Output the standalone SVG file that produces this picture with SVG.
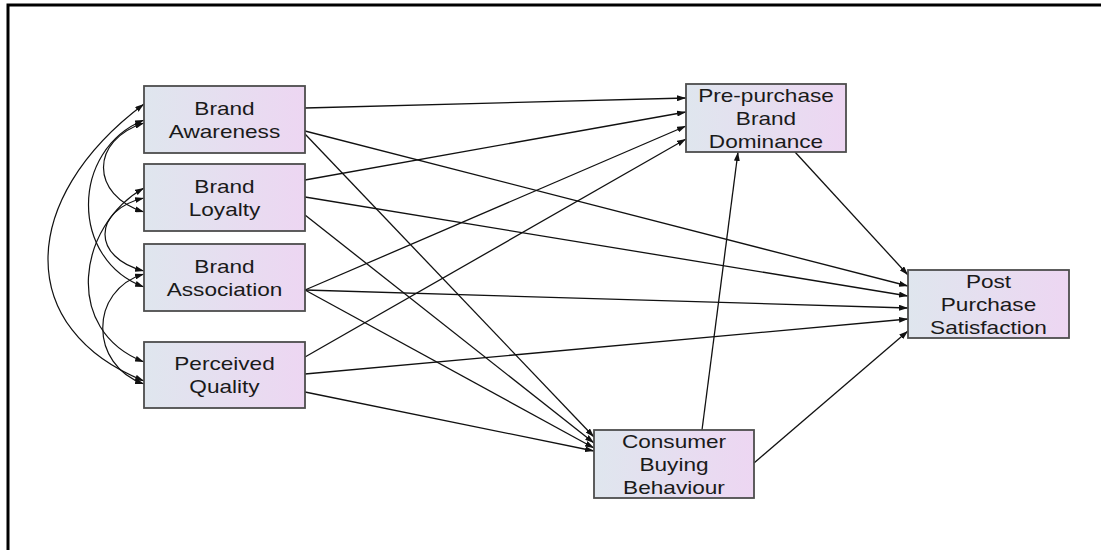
<svg xmlns="http://www.w3.org/2000/svg" width="1101" height="550" viewBox="0 0 1101 550">
<defs>
<linearGradient id="bg" x1="0" y1="0" x2="1" y2="0">
<stop offset="0" stop-color="#dfe6ee"/>
<stop offset="1" stop-color="#edd6f2"/>
</linearGradient>
<marker id="ah" viewBox="0 0 9 6" refX="9" refY="3" markerWidth="9" markerHeight="6" markerUnits="userSpaceOnUse" orient="auto-start-reverse">
<path d="M0,0 L9,3 L0,6 z" fill="#111"/>
</marker>
</defs>
<style>
.box{fill:url(#bg);stroke:#4d4d4d;stroke-width:1.8}
.lbl{font-family:"Liberation Sans",Arial,sans-serif;font-size:19px;fill:#1a1a1a;text-anchor:middle}
.e{fill:none;stroke:#111;stroke-width:1.3;marker-end:url(#ah)}
.c{fill:none;stroke:#111;stroke-width:1.2;marker-start:url(#ah);marker-end:url(#ah)}
</style>
<rect width="1101" height="550" fill="#fff"/>
<path d="M8,550 L8,5 L1101,5" fill="none" stroke="#000" stroke-width="3"/>

<g id="connectors">
<path class="e" d="M305,108 L686,98"/>
<path class="e" d="M305,131 L908,286"/>
<path class="e" d="M305,134 L594,437"/>
<path class="e" d="M305,180 L686,112"/>
<path class="e" d="M305,197 L908,296"/>
<path class="e" d="M305,215 L594,443"/>
<path class="e" d="M305,290 L686,126"/>
<path class="e" d="M305,290 L908,308"/>
<path class="e" d="M305,290 L594,448"/>
<path class="e" d="M305,357 L686,139"/>
<path class="e" d="M305,374 L908,319"/>
<path class="e" d="M305,392 L594,451"/>
<path class="e" d="M702,430 L738,152"/>
<path class="e" d="M795,152 L908,275"/>
<path class="e" d="M754,463 L908,331"/>
<path class="c" d="M144,104 C16,200 16,330 144,381"/>
<path class="c" d="M144,120 C70,150 70,260 144,287"/>
<path class="c" d="M144,188 C78,225 62,330 144,362"/>
<path class="c" d="M144,123 C90,140 90,195 144,212"/>
<path class="c" d="M144,198 C92,210 92,258 144,271"/>
<path class="c" d="M144,274 C89,290 89,365 144,384"/>
</g>

<g id="brand-awareness">
<rect class="box" x="144" y="86" width="161" height="67"/>
<text class="lbl" transform="translate(224.5,119.5) scale(1.19,1)"><tspan x="0" y="-4.2">Brand</tspan><tspan x="0" y="18.3">Awareness</tspan></text>
</g>
<g id="brand-loyalty">
<rect class="box" x="144" y="164" width="161" height="67"/>
<text class="lbl" transform="translate(224.5,197.5) scale(1.19,1)"><tspan x="0" y="-4.2">Brand</tspan><tspan x="0" y="18.3">Loyalty</tspan></text>
</g>
<g id="brand-association">
<rect class="box" x="144" y="244" width="161" height="67"/>
<text class="lbl" transform="translate(224.5,277.5) scale(1.19,1)"><tspan x="0" y="-4.2">Brand</tspan><tspan x="0" y="18.3">Association</tspan></text>
</g>
<g id="perceived-quality">
<rect class="box" x="144" y="342" width="161" height="66"/>
<text class="lbl" transform="translate(224.5,375) scale(1.19,1)"><tspan x="0" y="-5.5">Perceived</tspan><tspan x="0" y="18.3">Quality</tspan></text>
</g>
<g id="pre-purchase">
<rect class="box" x="686" y="84" width="160" height="68"/>
<text class="lbl" transform="translate(766,118) scale(1.19,1)"><tspan x="0" y="-16.5">Pre-purchase</tspan><tspan x="0" y="7">Brand</tspan><tspan x="0" y="30">Dominance</tspan></text>
</g>
<g id="consumer-buying">
<rect class="box" x="594" y="430" width="160" height="68"/>
<text class="lbl" transform="translate(674,464) scale(1.19,1)"><tspan x="0" y="-16.5">Consumer</tspan><tspan x="0" y="7">Buying</tspan><tspan x="0" y="30">Behaviour</tspan></text>
</g>
<g id="post-purchase">
<rect class="box" x="908" y="270" width="161" height="68"/>
<text class="lbl" transform="translate(988.5,304) scale(1.19,1)"><tspan x="0" y="-16.5">Post</tspan><tspan x="0" y="7">Purchase</tspan><tspan x="0" y="30">Satisfaction</tspan></text>
</g>
</svg>
